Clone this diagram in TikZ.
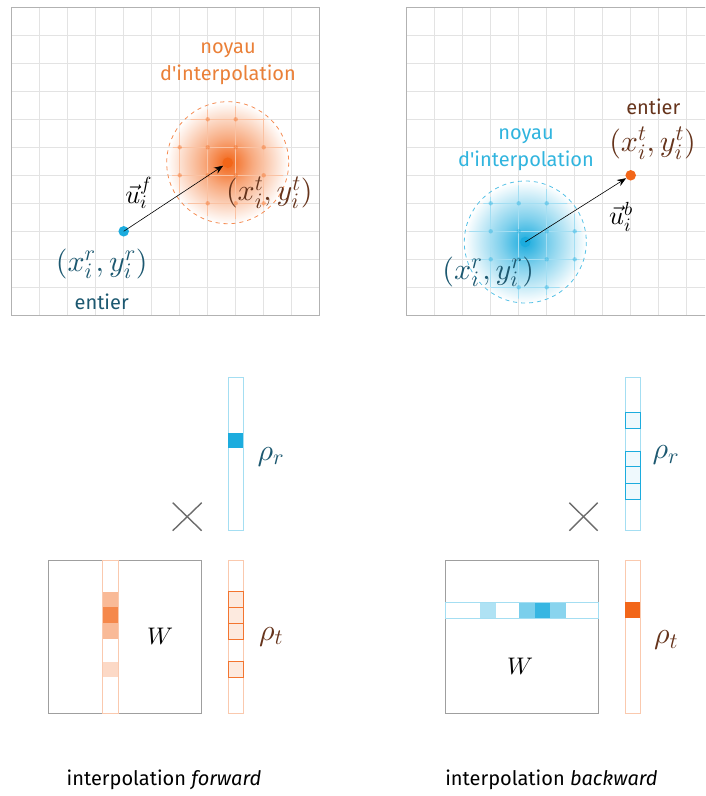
\documentclass[tikz,border=0pt]{standalone}
\usepackage{fontspec}
\setmainfont{Fira Sans}[Ligatures=TeXOff]
\usetikzlibrary{arrows.meta}
\DeclareFontShape{OML}{cmm}{m}{it}{<-> cmmi10}{}
\DeclareFontShape{OT1}{cmr}{m}{n}{<-> cmr10}{}
\DeclareFontShape{OMS}{cmsy}{m}{n}{<-> cmsy10}{}
\DeclareMathSizes{30}{30}{22}{16}
\DeclareMathSizes{26}{26}{19}{14}
\definecolor{kor}{RGB}{242,102,25}
\definecolor{kbl}{RGB}{28,172,222}
\definecolor{korlbl}{RGB}{234,128,56}
\definecolor{kbllbl}{RGB}{48,180,222}
\definecolor{kteal}{RGB}{28,88,112}
\definecolor{kbrown}{RGB}{102,52,28}
\pgfdeclareradialshading{glowor}{\pgfpoint{0bp}{0bp}}{color(0bp)=(kor); color(3bp)=(kor!88!white); color(10bp)=(kor!56!white); color(17bp)=(kor!30!white); color(22bp)=(kor!11!white); color(25bp)=(white); color(50bp)=(white)}
\pgfdeclareradialshading{glowbl}{\pgfpoint{0bp}{0bp}}{color(0bp)=(kbl); color(3bp)=(kbl!88!white); color(10bp)=(kbl!56!white); color(17bp)=(kbl!30!white); color(22bp)=(kbl!11!white); color(25bp)=(white); color(50bp)=(white)}
\tikzset{
  gridline/.style={draw=gray!22, line width=0.5pt},
  panelborder/.style={draw=gray!60, line width=0.7pt},
  txt/.style={font=\fontsize{20}{27}\selectfont, align=center, inner sep=0pt},
  mth/.style={font=\fontsize{30}{34}\selectfont, inner sep=0pt},
  ulbl/.style={font=\fontsize{26}{30}\selectfont, inner sep=0pt},
  wlbl/.style={font=\fontsize{24}{28}\selectfont, inner sep=0pt},
  pt/.style={circle, inner sep=0pt, minimum size=10.5pt},
  vec/.style={-{Stealth[length=9pt,width=7pt]}, line width=0.6pt, black},
  wbox/.style={draw=gray!75, line width=0.8pt, inner sep=0pt},
  vbox/.style={inner sep=0pt, line width=0.8pt},
  crossl/.style={draw=gray!85!black, line width=1.4pt},
}
\begin{document}
\begin{tikzpicture}[x=1pt,y=-1pt]
\useasboundingbox (0,0) rectangle (705,796);
\clip (0,0) rectangle (705,796);

% ---------------- left panel (forward) ----------------
\shade[shading=glowor] (227.7,162.7) circle (61);
\foreach \i in {0,...,11}{
  \draw[gridline] (11.7+28*\i,7.3) -- (11.7+28*\i,315.3);
  \draw[gridline] (11.7,7.3+28*\i) -- (319.7,7.3+28*\i);
}
\begin{scope}
  \clip (227.7,162.7) circle (57);
  \foreach \i in {0,...,11}{
    \draw[kor!40, line width=0.6pt] (11.7+28*\i,7.3) -- (11.7+28*\i,315.3);
    \draw[kor!40, line width=0.6pt] (11.7,7.3+28*\i) -- (319.7,7.3+28*\i);
  }
\end{scope}
\foreach \x in {179.7,207.7,235.7,263.7}{
  \foreach \y in {119.3,147.3,175.3,203.3}{
    \pgfmathsetmacro\dd{veclen(\x-227.7,\y-162.7)}
    \pgfmathparse{\dd<55 ? 1 : 0}
    \ifnum\pgfmathresult=1 \fill[kor, opacity=0.4] (\x,\y) circle (2.2); \fi
  }
}
\draw[panelborder] (11.7,7.3) rectangle (319.7,315.3);
\draw[kor!75, line width=0.8pt, dash pattern=on 4pt off 4pt] (227.7,162.7) circle (61);

\node[txt, text=korlbl] (nk1) at (228,64) {noyau\\d'interpolation};
\node[pt, fill=kbl] (r1) at (123.7,231.3) {};
\node[pt, fill=kor] (t1) at (227.7,162.7) {};
\draw[vec] (r1.center) -- (t1);
\node[ulbl] (u1) at (138.7,193) {$\vec{u}_i^f$};
\node[mth, text=kbrown] (xt1) at (269.3,192.5) {$(x_i^t,y_i^t)$};
\node[mth, text=kteal] (xr1) at (101.7,264) {$(x_i^r,y_i^r)$};
\node[txt, text=kteal] (en1) at (101.7,301.7) {entier};

% ---------------- right panel (backward) ----------------
\shade[shading=glowbl] (525.3,242) circle (61);
\foreach \i in {0,...,11}{
  \draw[gridline] (406.7+28*\i,7.3) -- (406.7+28*\i,315.3);
  \draw[gridline] (406.7,7.3+28*\i) -- (714.7,7.3+28*\i);
}
\begin{scope}
  \clip (525.3,242) circle (57);
  \foreach \i in {0,...,11}{
    \draw[kbl!40, line width=0.6pt] (406.7+28*\i,7.3) -- (406.7+28*\i,315.3);
    \draw[kbl!40, line width=0.6pt] (406.7,7.3+28*\i) -- (714.7,7.3+28*\i);
  }
\end{scope}
\foreach \x in {462.7,490.7,518.7,546.7,574.7}{
  \foreach \y in {203.3,231.3,259.3,287.3}{
    \pgfmathsetmacro\dd{veclen(\x-525.3,\y-242)}
    \pgfmathparse{\dd<55 ? 1 : 0}
    \ifnum\pgfmathresult=1 \fill[kbl, opacity=0.4] (\x,\y) circle (2.2); \fi
  }
}
\draw[panelborder] (406.7,7.3) rectangle (714.7,315.3);
\draw[kbl!75, line width=0.8pt, dash pattern=on 4pt off 4pt] (525.3,242) circle (61);

\node[txt, text=kbllbl] (nk2) at (526,150) {noyau\\d'interpolation};
\node[txt, text=kbrown] (en2) at (653.3,107) {entier};
\node[pt, fill=kbl] (r2) at (525.3,242) {};
\node[pt, fill=kor] (t2) at (630.7,175.3) {};
\draw[vec] (r2.center) -- (t2);
\node[ulbl] (u2) at (621,216.5) {$\vec{u}_i^b$};
\node[mth, text=kbrown] (xt2) at (652.5,143.3) {$(x_i^t,y_i^t)$};
\node[mth, text=kteal] (xr2) at (488.3,272) {$(x_i^r,y_i^r)$};

% ---------------- bottom left (forward) ----------------
\node[vbox, draw=kbl!40, minimum width=15pt, minimum height=153.4pt] (rrf) at (235.8,454) {};
\fill[kbl] (228.3,432.7) rectangle (243.3,447.7);
\node[mth, text=kteal] (lrrf) at (271,456.7) {$\rho_r$};
\draw[crossl] (172.7,502.7) -- (201.7,530.7);
\draw[crossl] (172.7,530.7) -- (201.7,502.7);

\node[wbox, minimum width=153.4pt, minimum height=153.3pt] (wf) at (125,636.7) {};
\fill[kor!45!white] (102.7,591.7) rectangle (118.3,607.3);
\fill[kor!78!white] (102.7,607.3) rectangle (118.3,623.3);
\fill[kor!45!white] (102.7,623.3) rectangle (118.3,639);
\fill[kor!25!white] (102.7,661.7) rectangle (118.3,677.3);
\node[vbox, draw=kor!35, minimum width=15.6pt, minimum height=153.3pt] (cf) at (110.5,636.7) {};
\node[wlbl] (lwf) at (160,636.7) {$W$};

\node[vbox, draw=kor!35, minimum width=15pt, minimum height=153.3pt] (rtf) at (235.8,636.7) {};
\foreach \a/\b in {591.7/607.3,607.3/623.3,623.3/639,661.7/677.3}{
  \draw[kor!90, fill=kor!14!white, line width=0.8pt] (228.3,\a) rectangle (243.3,\b);
}
\node[mth, text=kbrown] (lrtf) at (271,636.7) {$\rho_t$};

\node[txt] (capf) at (164,780) {interpolation \textit{forward}};

% ---------------- bottom right (backward) ----------------
\node[vbox, draw=kbl!40, minimum width=15pt, minimum height=153.4pt] (rrb) at (632.5,454) {};
\foreach \a/\b in {412.3/428.3,451/466.7,466.7/483.3,483.3/499.3}{
  \draw[kbl, fill=kbl!7!white, line width=0.8pt] (625,\a) rectangle (640,\b);
}
\node[mth, text=kteal] (lrrb) at (666,455) {$\rho_r$};
\draw[crossl] (569.3,502.7) -- (597.7,530.7);
\draw[crossl] (569.3,530.7) -- (597.7,502.7);

\node[wbox, minimum width=153.3pt, minimum height=153.3pt] (wb) at (521.7,636.7) {};
\fill[kbl!35!white] (480,602.3) rectangle (496,618.3);
\fill[kbl!58!white] (519,602.3) rectangle (535,618.3);
\fill[kbl!88!white] (535,602.3) rectangle (550,618.3);
\fill[kbl!52!white] (550,602.3) rectangle (565.7,618.3);
\node[vbox, draw=kbl!40, minimum width=153.3pt, minimum height=16pt] (cb) at (521.7,610.3) {};
\node[wlbl] (lwb) at (520,666.7) {$W$};

\node[vbox, draw=kor!35, minimum width=15pt, minimum height=153.3pt] (rtb) at (632.5,636.7) {};
\fill[kor] (625,602.3) rectangle (640,618.3);
\node[mth, text=kbrown] (lrtb) at (666,640) {$\rho_t$};

\node[txt] (capb) at (551.5,780) {interpolation \textit{backward}};
\end{tikzpicture}
\end{document}
